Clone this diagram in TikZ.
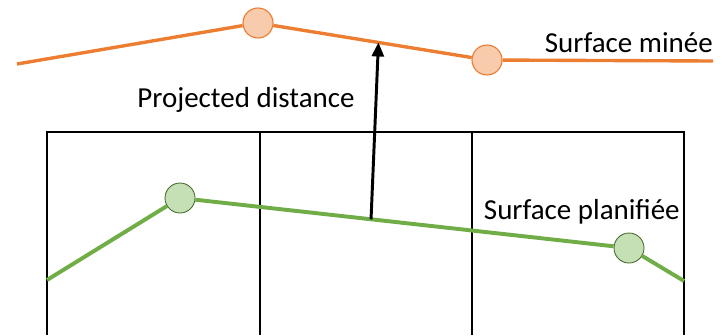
\documentclass[tikz,border=0pt]{standalone}
\usepackage{fontspec}
\setmainfont{Carlito}
\usepackage{xcolor}
\definecolor{mined}{RGB}{237,125,49}
\definecolor{minedfill}{RGB}{248,203,173}
\definecolor{planned}{RGB}{112,173,71}
\definecolor{plannedfill}{RGB}{197,224,180}
\usepackage{tikz}
\usetikzlibrary{arrows.meta,positioning,calc}
\tikzset{
  minepoint/.style={circle,draw=mined,fill=minedfill,minimum size=30*0.025cm,inner sep=0pt,line width=0.8pt},
  planpoint/.style={circle,draw=planned!60!black,fill=plannedfill,minimum size=30*0.025cm,inner sep=0pt,line width=0.6pt},
  minedline/.style={draw=mined,line width=2.4pt},
  plannedline/.style={draw=planned,line width=2.8pt},
  cell/.style={draw=black,line width=1.9pt},
  label/.style={font=\fontsize{20.6}{24}\selectfont,inner sep=0pt},
  proj/.style={-{Triangle[length=3.5mm,width=3mm]},line width=2.1pt},
}
\begin{document}
\begin{tikzpicture}[x=0.025cm,y=-0.025cm]
\useasboundingbox (0,0) rectangle (722,335);
% grid of cells
\draw[cell] (47,335) -- (47,132) -- (684,132) -- (684,335);
\draw[cell] (260,132) -- (260,335);
\draw[cell] (472,132) -- (472,335);
% mined surface
\coordinate (m0) at (17,64);
\coordinate (m3) at (713,61);
\node[minepoint] (m1) at (258,23) {};
\node[minepoint] (m2) at (487,60) {};
\draw[minedline] (m0) -- (m1) -- (m2) -- (m3);
\node[label,anchor=south east] (mlab) at (713,53) {Surface minée};
% planned surface
\coordinate (p0) at (47,280);
\coordinate (p3) at (684,281);
\node[planpoint] (p1) at (180,198) {};
\node[planpoint] (p2) at (629,248) {};
\draw[plannedline] (p0) -- (p1) -- (p2) -- (p3);
\node[label,anchor=south east] (plab) at (680,224) {Surface planifiée};
% projection
\path (p1) -- coordinate[pos=0.42] (pp) (p2);
\path (m1) -- coordinate[pos=0.53] (mp) (m2);
\draw[proj] (pp) -- (mp);
\node[label,anchor=base] (dlab) at (246,107) {Projected distance};
\end{tikzpicture}
\end{document}
